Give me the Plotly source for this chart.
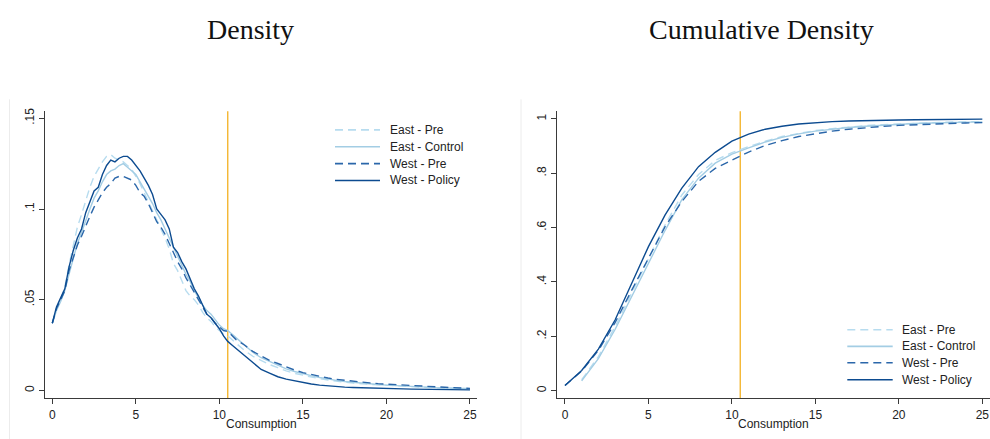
import plotly.graph_objects as go

# ---------------------------------------------------------------------------
# Data
# ---------------------------------------------------------------------------
series_names = ["East - Pre", "East - Control", "West - Pre", "West - Policy"]
series_colors = ["#b7dcef", "#a3cde4", "#2b67aa", "#0c4b90"]
series_dash = ["8px,5px", "solid", "8px,5px", "solid"]

policy_threshold = 10.5

# kernel density evaluation grid (fine below 11, coarser in the tail)
density_grid = [i / 4 for i in range(45)] + [11.5 + i / 2 for i in range(28)]

dens_east_pre = [
    0.037, 0.045, 0.050, 0.057, 0.069, 0.080, 0.090, 0.097, 0.105, 0.112,
    0.118, 0.122, 0.126, 0.129, 0.130, 0.128, 0.127, 0.126, 0.124, 0.122,
    0.118, 0.114, 0.109, 0.104, 0.099, 0.094, 0.089, 0.084, 0.078, 0.070,
    0.066, 0.060, 0.055, 0.052, 0.050, 0.047, 0.043, 0.040, 0.038, 0.035,
    0.033, 0.031, 0.030, 0.028, 0.026,
    0.022, 0.0188, 0.0165, 0.0142, 0.0125, 0.0107, 0.0094, 0.0083, 0.0073, 0.0064,
    0.0057, 0.0050, 0.0045, 0.0040, 0.0036, 0.0033, 0.0030, 0.0027, 0.0024, 0.0022,
    0.0020, 0.0018, 0.0016, 0.0014, 0.0013, 0.0011, 0.0010, 0.0009,
]
dens_east_control = [
    0.037, 0.044, 0.049, 0.055, 0.064, 0.073, 0.081, 0.087, 0.094, 0.100,
    0.106, 0.110, 0.115, 0.119, 0.121, 0.122, 0.124, 0.125, 0.123, 0.121,
    0.119, 0.115, 0.111, 0.107, 0.103, 0.098, 0.094, 0.089, 0.084, 0.079,
    0.074, 0.069, 0.064, 0.060, 0.055, 0.051, 0.047, 0.044, 0.042, 0.039,
    0.036, 0.034, 0.033, 0.031, 0.029,
    0.025, 0.021, 0.018, 0.0158, 0.0138, 0.0118, 0.0104, 0.0091, 0.0081, 0.0071,
    0.0062, 0.0055, 0.0049, 0.0044, 0.0039, 0.0035, 0.0032, 0.0029, 0.0026, 0.0024,
    0.0022, 0.0019, 0.0017, 0.0015, 0.0014, 0.0012, 0.0011, 0.0009,
]
dens_west_pre = [
    0.037, 0.045, 0.050, 0.055, 0.066, 0.073, 0.080, 0.085, 0.091, 0.096,
    0.101, 0.105, 0.109, 0.112, 0.114, 0.117, 0.118, 0.118, 0.117, 0.116,
    0.113, 0.109, 0.107, 0.103, 0.098, 0.093, 0.090, 0.086, 0.081, 0.076,
    0.071, 0.067, 0.062, 0.058, 0.054, 0.050, 0.046, 0.042, 0.040, 0.037,
    0.035, 0.033, 0.0325, 0.030, 0.028,
    0.025, 0.0215, 0.019, 0.0165, 0.0148, 0.0128, 0.0112, 0.0098, 0.0087, 0.0077,
    0.0068, 0.0061, 0.0055, 0.0050, 0.0045, 0.0041, 0.0037, 0.0034, 0.0031, 0.0028,
    0.0026, 0.0023, 0.0021, 0.0019, 0.0017, 0.0015, 0.0013, 0.0011,
]
dens_west_policy = [
    0.037, 0.046, 0.051, 0.056, 0.068, 0.077, 0.084, 0.089, 0.098, 0.104,
    0.110, 0.112, 0.119, 0.124, 0.127, 0.126, 0.128, 0.129, 0.129, 0.127,
    0.124, 0.121, 0.117, 0.113, 0.108, 0.100, 0.097, 0.094, 0.089, 0.079,
    0.076, 0.071, 0.067, 0.061, 0.056, 0.052, 0.047, 0.042, 0.040, 0.037,
    0.034, 0.030, 0.027, 0.025, 0.023,
    0.019, 0.015, 0.0115, 0.0095, 0.0075, 0.0062, 0.0052, 0.0042, 0.0035, 0.0029,
    0.0024, 0.0021, 0.0018, 0.0016, 0.0014, 0.0012, 0.0011, 0.0010, 0.0009, 0.0008,
    0.0007, 0.0006, 0.0006, 0.0005, 0.0004, 0.0004, 0.0003, 0.0003,
]

# empirical CDF evaluated at whole units of consumption
cdf_grid_west = list(range(0, 26))
cdf_grid_east = list(range(1, 26))

cdf_east_pre = [
    0.040, 0.125, 0.235, 0.360, 0.490, 0.610, 0.720, 0.795, 0.847, 0.876,
    0.898, 0.918, 0.935, 0.947, 0.957, 0.964, 0.970, 0.975, 0.979, 0.982,
    0.984, 0.986, 0.988, 0.989, 0.990,
]
cdf_east_control = [
    0.036, 0.118, 0.225, 0.345, 0.470, 0.590, 0.703, 0.782, 0.837, 0.870,
    0.893, 0.915, 0.932, 0.945, 0.955, 0.962, 0.968, 0.973, 0.977, 0.980,
    0.983, 0.985, 0.987, 0.988, 0.989,
]
cdf_west_pre = [
    0.019, 0.072, 0.148, 0.250, 0.370, 0.490, 0.604, 0.696, 0.770, 0.818,
    0.849, 0.878, 0.902, 0.920, 0.935, 0.946, 0.955, 0.962, 0.968, 0.972,
    0.976, 0.979, 0.981, 0.983, 0.985, 0.986,
]
cdf_west_policy = [
    0.019, 0.074, 0.153, 0.260, 0.395, 0.530, 0.647, 0.745, 0.824, 0.877,
    0.918, 0.944, 0.962, 0.973, 0.981, 0.986, 0.990, 0.992, 0.994, 0.995,
    0.996, 0.997, 0.998, 0.998, 0.999, 0.999,
]

density_series = [dens_east_pre, dens_east_control, dens_west_pre, dens_west_policy]
cdf_series = [cdf_east_pre, cdf_east_control, cdf_west_pre, cdf_west_policy]
cdf_grids = [cdf_grid_east, cdf_grid_east, cdf_grid_west, cdf_grid_west]

x_ticks = [0, 5, 10, 15, 20, 25]
dens_ticks = [0, 0.05, 0.1, 0.15]
dens_ticktext = ["0", ".05", ".1", ".15"]
cdf_ticks = [0, 0.2, 0.4, 0.6, 0.8, 1]
cdf_ticktext = ["0", ".2", ".4", ".6", ".8", "1"]

# ---------------------------------------------------------------------------
# Figure
# ---------------------------------------------------------------------------
W, H = 990, 439


def px_x(v):
    return v / W


def px_y(v):
    return (H - v) / H


fig = go.Figure()

for name, color, dash, ys in zip(series_names, series_colors, series_dash, density_series):
    fig.add_trace(go.Scatter(
        x=density_grid, y=ys, mode="lines", name=name, showlegend=False,
        line=dict(color=color, width=1.4, dash=dash),
        xaxis="x", yaxis="y",
    ))

for name, color, dash, xs, ys in zip(series_names, series_colors, series_dash, cdf_grids, cdf_series):
    fig.add_trace(go.Scatter(
        x=xs, y=ys, mode="lines", name=name, showlegend=False,
        line=dict(color=color, width=1.4, dash=dash),
        xaxis="x2", yaxis="y2",
    ))

axis_color = "#3a3a3a"
tick_font = dict(family="Liberation Sans, Arial, sans-serif", size=12, color="#222222")
common_axis = dict(
    showline=True, linecolor=axis_color, linewidth=1.3,
    ticks="outside", ticklen=5, tickwidth=1.1, tickcolor=axis_color,
    showgrid=False, zeroline=False, tickfont=tick_font,
)

y_domain = [px_y(397.7), px_y(109)]

fig.update_layout(
    width=W, height=H,
    margin=dict(l=0, r=0, t=0, b=0),
    paper_bgcolor="white", plot_bgcolor="white",
    xaxis=dict(domain=[px_x(45), px_x(477)], range=[-0.437, 25.42],
               tickvals=x_ticks, anchor="y", **common_axis),
    yaxis=dict(domain=y_domain, range=[-0.0042, 0.1539],
               tickvals=dens_ticks, ticktext=dens_ticktext, tickangle=-90,
               anchor="x", **common_axis),
    xaxis2=dict(domain=[px_x(557.3), px_x(989.5)], range=[-0.46, 25.43],
                tickvals=x_ticks, anchor="y2", **common_axis),
    yaxis2=dict(domain=y_domain, range=[-0.027, 1.028],
                tickvals=cdf_ticks, ticktext=cdf_ticktext, tickangle=-90,
                anchor="x2", **common_axis),
)

shapes = []
annotations = []

# policy threshold marker on both panels
for xr, yr in [("x", "y domain"), ("x2", "y2 domain")]:
    shapes.append(dict(type="line", xref=xr, yref=yr, x0=policy_threshold, x1=policy_threshold,
                       y0=0, y1=1, line=dict(color="#f4b632", width=1.4), layer="below"))

# faint panel outlines
for xe in [9.5, 521]:
    shapes.append(dict(type="line", xref="paper", yref="paper",
                       x0=px_x(xe), x1=px_x(xe), y0=0, y1=px_y(97),
                       line=dict(color="#ececec", width=1)))

# legends drawn inside each panel
legend_specs = [
    (335, 380, 387.7, [127.7, 144.7, 161.7, 178.7]),
    (847.3, 892.7, 900, [329, 345.7, 362.3, 379.3]),
]
for lx0, lx1, tx, rows in legend_specs:
    for name, color, dash, ry in zip(series_names, series_colors, series_dash, rows):
        shapes.append(dict(type="line", xref="paper", yref="paper",
                           x0=px_x(lx0), x1=px_x(lx1), y0=px_y(ry), y1=px_y(ry),
                           line=dict(color=color, width=1.6, dash=dash)))
        annotations.append(dict(text=name, xref="paper", yref="paper",
                                x=px_x(tx), y=px_y(ry), xanchor="left", yanchor="middle",
                                showarrow=False,
                                font=dict(family="Liberation Sans, Arial, sans-serif",
                                          size=12, color="#222222")))

# panel titles
title_font = dict(family="Liberation Serif, Times New Roman, serif", size=28, color="#111111")
for text, cx in [("Density", 250), ("Cumulative Density", 761)]:
    annotations.append(dict(text=text, xref="paper", yref="paper", x=px_x(cx), y=px_y(27),
                            xanchor="center", yanchor="middle", showarrow=False, font=title_font))

# axis titles
for cx in [261.3, 773]:
    annotations.append(dict(text="Consumption", xref="paper", yref="paper", x=px_x(cx), y=px_y(424),
                            xanchor="center", yanchor="middle", showarrow=False,
                            font=dict(family="Liberation Sans, Arial, sans-serif", size=12,
                                      color="#222222")))

fig.update_layout(shapes=shapes, annotations=annotations)

fig.write_html("out.html")
